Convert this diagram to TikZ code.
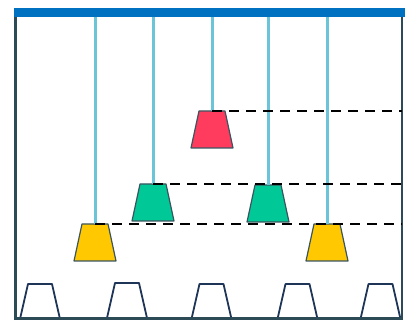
\documentclass[tikz,border=0pt]{standalone}
\definecolor{wall}{HTML}{2D4B57}
\definecolor{barblue}{HTML}{0070C0}
\definecolor{rope}{HTML}{6BC4D8}
\definecolor{cupred}{HTML}{FF3B5E}
\definecolor{cupgreen}{HTML}{00C896}
\definecolor{cupyellow}{HTML}{FFC800}
\definecolor{edge}{HTML}{3A5560}
\definecolor{navy}{HTML}{1F3558}
\begin{document}
\begin{tikzpicture}[x=1pt,y=-1pt,
  cup/.pic={
    \filldraw[fill=#1, draw=edge, line width=1.2pt, line join=round]
      (-13,0) -- (13,0) -- (21,37) -- (-21,37) -- cycle;
    \coordinate (-top) at (0,0);},
  base/.pic={
    \draw[draw=navy, line width=1.8pt, line join=round]
      (-20,35) -- (-12,0) -- (12,0) -- (20,35);
    \coordinate (-top) at (0,0);},
  string/.style={draw=rope, line width=3pt},
  level/.style={draw=black, line width=2.8pt, dash pattern=on 10pt off 7pt}]
\useasboundingbox (0,0) rectangle (407,320);
% base outlines
\pic (b1) at (40,284) {base};
\pic (b2) at (127,283) {base};
\pic (b3) at (211.5,284) {base};
\pic (b4) at (297.5,284) {base};
\pic (b5) at (380.5,284) {base};
% frame
\draw[wall, line width=2.8pt] (15.5,9) -- (15.5,318.6) -- (402,318.6) -- (402,9);
\fill[barblue] (14,8) rectangle (405,17);
% cups
\pic (r) at (212,111) {cup=cupred};
\pic (g1) at (153,184) {cup=cupgreen};
\pic (g2) at (268,185) {cup=cupgreen};
\pic (y1) at (95,224) {cup=cupyellow};
\pic (y2) at (327,224) {cup=cupyellow};
% strings
\foreach \n in {r,g1,g2,y1,y2}
  \draw[string] (\n-top |- 0,17) -- (\n-top);
% level lines
\coordinate (er) at (402,111);
\coordinate (eg) at (402,184);
\coordinate (ey) at (402,224);
\draw[level] (r-top) -- (er);
\draw[level] (g1-top) -- (eg);
\draw[level] (y1-top) -- (ey);
\end{tikzpicture}
\end{document}
